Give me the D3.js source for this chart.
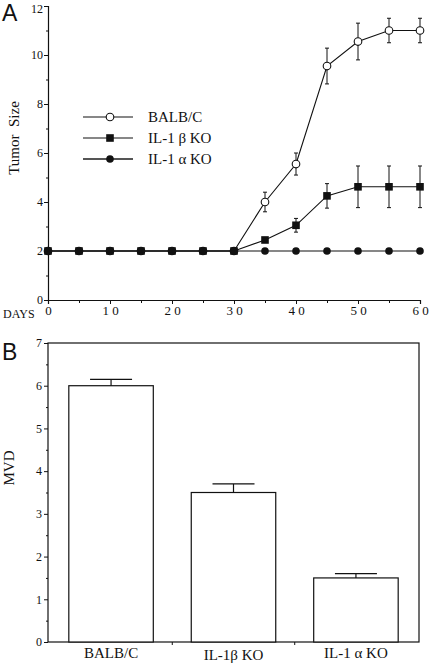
<!DOCTYPE html>
<html><head><meta charset="utf-8">
<script src="https://cdn.jsdelivr.net/npm/d3@7"></script>
<style>
body{margin:0;background:#fff;}
svg{display:block;}
</style></head>
<body><svg id="c" width="429" height="663"></svg>
<script>
// ---- Panel A data ----
const days = [0,5,10,15,20,25,30,35,40,45,50,55,60];
const balbc = [2,2,2,2,2,2,2,4.0,5.55,9.55,10.55,11,11];
const balbcErr = [0,0,0,0,0,0,0,0.4,0.45,0.73,0.75,0.5,0.5];
const il1b = [2,2,2,2,2,2,2,2.45,3.05,4.25,4.62,4.62,4.62];
const il1bErr = [0,0,0,0,0,0,0,0,0.28,0.5,0.85,0.85,0.85];
const il1a = [2,2,2,2,2,2,2,2,2,2,2,2,2];
const seriesNames = ["BALB/C","IL-1 β KO","IL-1 α KO"];
const yTicksA = [0,2,4,6,8,10,12];
const xTicksA = [0,10,20,30,40,50,60];
const xTickLabelsA = ["0","1 0","2 0","3 0","4 0","5 0","6 0"];

// ---- Panel B data ----
const groups = ["BALB/C","IL-1β KO","IL-1 α KO"];
const mvd = [6.0,3.5,1.5];
const mvdErr = [0.15,0.2,0.1];
const yTicksB = [0,1,2,3,4,5,6,7];

const SERIF = "'Liberation Serif','Times New Roman','DejaVu Serif',serif";
const SANS = "'Liberation Sans',Arial,sans-serif";
const svg = d3.select("#c");

// ===== Panel A =====
const xA = d3.scaleLinear().domain([0,60]).range([48,420]);
const yA = d3.scaleLinear().domain([0,12]).range([300,6]);
const gA = svg.append("g");

const yAxA = d3.axisLeft(yA).tickValues(yTicksA).tickSize(4).tickFormat(d3.format("d"));
const gyA = gA.append("g").attr("transform","translate(48,0)").call(yAxA);
gyA.select(".domain").attr("stroke","#111").attr("stroke-width",1.2);
gyA.selectAll(".tick line").attr("stroke","#111");
gyA.selectAll(".tick text").style("font-family",SERIF).style("font-size","12px").attr("x",-5).attr("fill","#111")
  .attr("dy",d=>d===12?"0.5em":"0.32em");
gA.append("g").attr("transform","translate(48,0)")
  .call(d3.axisLeft(yA).tickValues([1,3,5,7,9,11]).tickSize(2).tickFormat(""))
  .call(g=>g.select(".domain").remove()).selectAll("line").attr("stroke","#111");

const xAxA = d3.axisBottom(xA).tickValues(xTicksA).tickSize(4).tickFormat((d,i)=>xTickLabelsA[i]);
const gxA = gA.append("g").attr("transform","translate(0,300)").call(xAxA);
gxA.select(".domain").attr("stroke","#111").attr("stroke-width",1.2);
gxA.selectAll(".tick line").attr("stroke","#111");
gxA.selectAll(".tick text").style("font-family",SERIF).style("font-size","13px").attr("y",6).attr("fill","#111")
  .style("white-space","pre");
gA.append("g").attr("transform","translate(0,300)")
  .call(d3.axisBottom(xA).tickValues([5,15,25,35,45,55]).tickSize(3).tickFormat(""))
  .call(g=>g.select(".domain").remove()).selectAll("line").attr("stroke","#111");
gA.append("text").attr("x",3).attr("y",318).style("font-family",SERIF).style("font-size","12px").attr("fill","#111").text("DAYS");

gA.append("text").attr("transform","translate(19,138) rotate(-90)").attr("text-anchor","middle")
  .style("font-family",SERIF).style("font-size","15px").attr("fill","#111").text("Tumor\u00a0\u00a0Size");
svg.append("text").attr("x",2).attr("y",21).style("font-family",SANS)
  .style("font-size","23px").attr("fill","#111").text("A");

const line = d3.line().x((d,i)=>xA(days[i])).y(d=>yA(d));
function errBars(vals, errs){
  const eb = gA.append("g").attr("stroke","#111").attr("stroke-width",1);
  days.forEach((d,i)=>{
    if(!errs[i]) return;
    const x = xA(d);
    eb.append("line").attr("x1",x).attr("x2",x).attr("y1",yA(vals[i]+errs[i])).attr("y2",yA(vals[i]-errs[i]));
    eb.append("line").attr("x1",x-2).attr("x2",x+2).attr("y1",yA(vals[i]+errs[i])).attr("y2",yA(vals[i]+errs[i]));
    eb.append("line").attr("x1",x-2).attr("x2",x+2).attr("y1",yA(vals[i]-errs[i])).attr("y2",yA(vals[i]-errs[i]));
  });
}
errBars(balbc, balbcErr);
errBars(il1b, il1bErr);
[balbc, il1a, il1b].forEach(v=>{
  gA.append("path").datum(v).attr("d",line).attr("fill","none").attr("stroke","#111").attr("stroke-width",1.1);
});
gA.append("g").selectAll("circle").data(balbc).join("circle")
  .attr("cx",(d,i)=>xA(days[i])).attr("cy",d=>yA(d)).attr("r",3.8)
  .attr("fill","#fff").attr("stroke","#111").attr("stroke-width",1.1);
gA.append("g").selectAll("circle").data(il1a).join("circle")
  .attr("cx",(d,i)=>xA(days[i])).attr("cy",d=>yA(d)).attr("r",3.8).attr("fill","#111");
gA.append("g").selectAll("rect").data(il1b).join("rect")
  .attr("x",(d,i)=>xA(days[i])-3.8).attr("y",d=>yA(d)-3.8).attr("width",7.6).attr("height",7.6).attr("fill","#111");

const leg = gA.append("g");
const legY = [117,138,159];
seriesNames.forEach((n,i)=>{
  const y = legY[i];
  leg.append("line").attr("x1",83).attr("x2",133).attr("y1",y).attr("y2",y)
    .attr("stroke", i===2 ? "#555" : "#111").attr("stroke-width", i===2 ? 2 : 1.1);
  if(i===0) leg.append("circle").attr("cx",110).attr("cy",y).attr("r",3.8).attr("fill","#fff").attr("stroke","#111").attr("stroke-width",1.1);
  if(i===1) leg.append("rect").attr("x",106.2).attr("y",y-3.8).attr("width",7.6).attr("height",7.6).attr("fill","#111");
  if(i===2) leg.append("circle").attr("cx",110).attr("cy",y).attr("r",3.8).attr("fill","#111");
  leg.append("text").attr("x",148).attr("y",y+5).style("font-family",SERIF).style("font-size","15px").attr("fill","#111").text(n);
});

// ===== Panel B =====
const xB = d3.scaleBand().domain(groups).range([48,419]).paddingInner(0.31).paddingOuter(0.17);
const yB = d3.scaleLinear().domain([0,7]).range([642,343]);
const gB = svg.append("g");
gB.append("rect").attr("x",48).attr("y",343).attr("width",371).attr("height",299)
  .attr("fill","none").attr("stroke","#111").attr("stroke-width",1.2);
const gyB = gB.append("g").attr("transform","translate(48,0)")
  .call(d3.axisLeft(yB).tickValues(yTicksB).tickSize(4).tickFormat(d3.format("d")));
gyB.select(".domain").remove();
gyB.selectAll(".tick line").attr("stroke","#111");
gyB.selectAll(".tick text").style("font-family",SERIF).style("font-size","12px").attr("x",-6).attr("fill","#111");
gB.append("g").attr("transform","translate(48,0)")
  .call(d3.axisLeft(yB).tickValues([0.5,1.5,2.5,3.5,4.5,5.5,6.5]).tickSize(2).tickFormat(""))
  .call(g=>g.select(".domain").remove()).selectAll("line").attr("stroke","#111");
const step = xB.step();
gB.append("g").selectAll("line").data(groups.slice(1)).join("line")
  .attr("x1",d=>xB(d)-step*0.31/2).attr("x2",d=>xB(d)-step*0.31/2)
  .attr("y1",642).attr("y2",645).attr("stroke","#111");
gB.append("g").selectAll("rect").data(mvd).join("rect")
  .attr("x",(d,i)=>xB(groups[i])).attr("y",d=>yB(d)).attr("width",xB.bandwidth()).attr("height",d=>642-yB(d))
  .attr("fill","#fff").attr("stroke","#111").attr("stroke-width",1.2);
const ebB = gB.append("g").attr("stroke","#111").attr("stroke-width",1.2);
mvd.forEach((v,i)=>{
  const cx = xB(groups[i])+xB.bandwidth()/2;
  ebB.append("line").attr("x1",cx).attr("x2",cx).attr("y1",yB(v)).attr("y2",yB(v+mvdErr[i]));
  ebB.append("line").attr("x1",cx-21).attr("x2",cx+21).attr("y1",yB(v+mvdErr[i])).attr("y2",yB(v+mvdErr[i]));
});
groups.forEach((g,i)=>{
  gB.append("text").attr("x",xB(g)+xB.bandwidth()/2).attr("y",i===1?660:658).attr("text-anchor","middle")
    .style("font-family",SERIF).style("font-size","15px").attr("fill","#111").text(g);
});
gB.append("text").attr("transform","translate(14,468) rotate(-90)").attr("text-anchor","middle")
  .style("font-family",SERIF).style("font-size","15px").attr("fill","#111").text("MVD");
svg.append("text").attr("x",2).attr("y",360).style("font-family",SANS)
  .style("font-size","23px").attr("fill","#111").text("B");
</script></body></html>
